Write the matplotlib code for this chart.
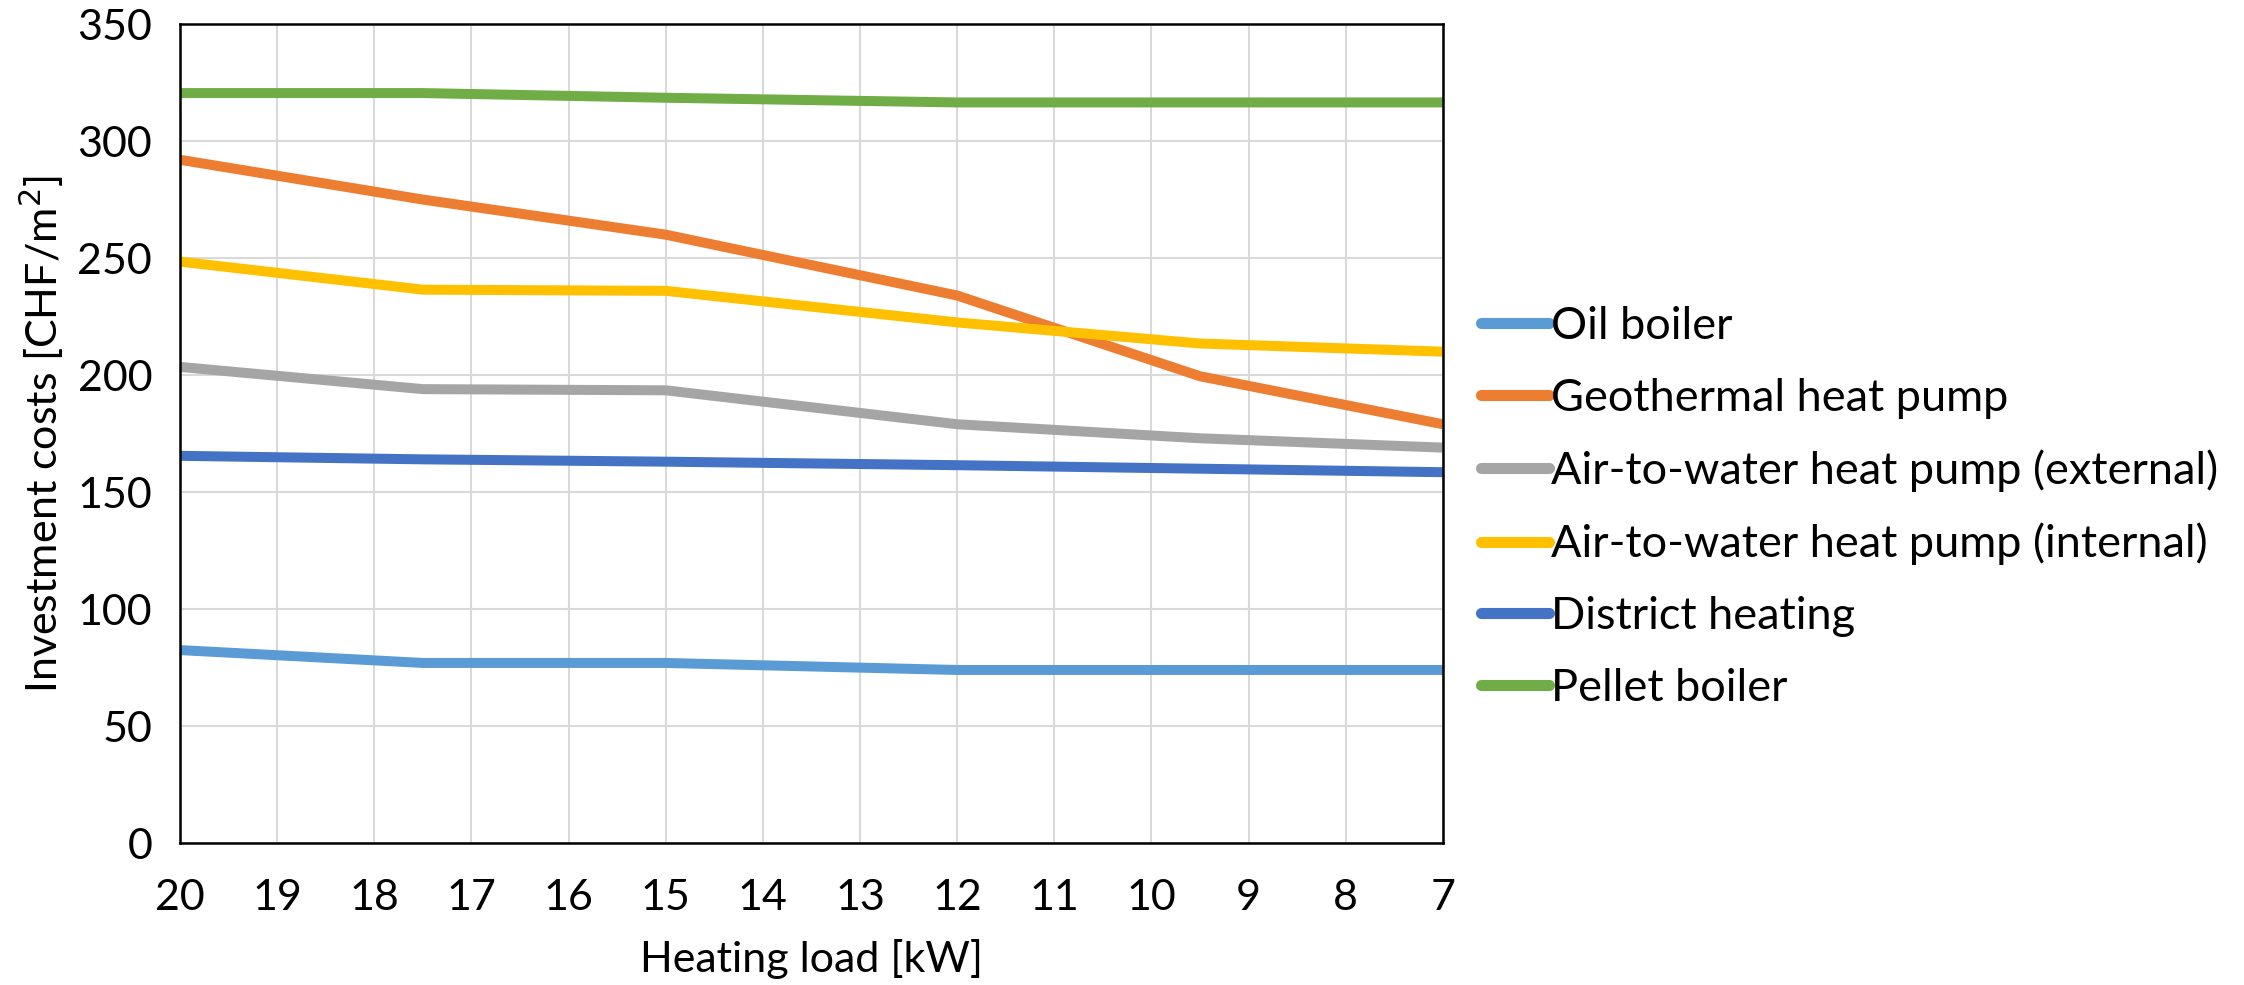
import matplotlib
matplotlib.use("Agg")
import matplotlib.pyplot as plt

plt.rcParams["font.family"] = ["Lato", "DejaVu Sans"]

# Heating load steps (kW) and investment costs per system (CHF/m2)
heating_load = [20, 17.5, 15, 12, 9.5, 7]

oil_boiler = [82.5, 77, 77, 74, 74, 74]
geothermal_hp = [292, 275, 260, 234, 199.5, 179]
air_water_external = [203.5, 194, 193.5, 179, 173, 169]
air_water_internal = [248.5, 236.5, 236, 222.5, 213.5, 210]
district_heating = [165.5, 164, 163, 161.5, 160, 158.5]
pellet_boiler = [320.5, 320.5, 318.5, 316.5, 316.5, 316.5]

series = [
    ("Oil boiler", oil_boiler, "#5b9bd5"),
    ("Geothermal heat pump", geothermal_hp, "#ed7d31"),
    ("Air-to-water heat pump (external)", air_water_external, "#a5a5a5"),
    ("Air-to-water heat pump (internal)", air_water_internal, "#ffc000"),
    ("District heating", district_heating, "#4472c4"),
    ("Pellet boiler", pellet_boiler, "#70ad47"),
]

fig = plt.figure(figsize=(22.44, 9.85), dpi=100)
ax = fig.add_axes([0.0802, 0.144, 0.5628, 0.8316])

for label, values, color in series:
    ax.plot(heating_load, values, color=color, lw=7.2, label=label,
            solid_capstyle="butt", solid_joinstyle="miter")

ax.set_xlim(20, 7)
ax.set_ylim(0, 350)
ax.set_xticks(range(7, 21))
ax.set_yticks(range(0, 351, 50))
ax.grid(True, color="#d9d9d9", lw=1.5)
ax.set_axisbelow(True)
for side in ax.spines.values():
    side.set_color("black")
    side.set_linewidth(1.8)
ax.tick_params(length=0, labelsize=31)
ax.tick_params(axis="x", pad=26)
ax.tick_params(axis="y", pad=20)

ax.set_xlabel("Heating load [kW]", fontsize=31, labelpad=16)
ax.set_ylabel("Investment costs [CHF/m$^2$]", fontsize=31, labelpad=8)

leg = ax.legend(loc="center left", bbox_to_anchor=(1.016, 0.41), frameon=False,
                fontsize=32.5, handlelength=1.5, handletextpad=0.05,
                labelspacing=0.68, borderaxespad=0)
for line in leg.get_lines():
    line.set_solid_capstyle("round")
    line.set_linewidth(8)

fig.savefig("out.png", dpi=100)
